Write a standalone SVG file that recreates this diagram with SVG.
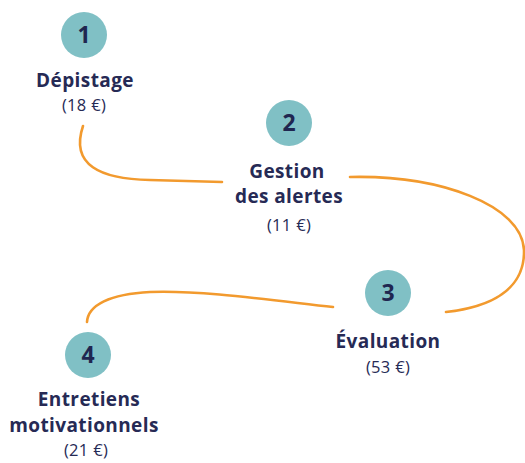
<svg xmlns="http://www.w3.org/2000/svg" width="525" height="463" viewBox="0 0 525 463">
  <style>
    .step circle { fill: #80c0c5; }
    .num { font-family: "Open Sans", "Noto Sans", sans-serif; font-weight: 700; font-size: 23px; fill: #1f2650; text-anchor: middle; }
    .title { font-family: "Open Sans", "Noto Sans", sans-serif; font-weight: 700; font-size: 19px; letter-spacing: 0.4px; fill: #262a55; text-anchor: middle; }
    .price { font-family: "Open Sans", "Noto Sans", sans-serif; font-weight: 500; font-size: 16.5px; letter-spacing: 0.3px; fill: #262a55; text-anchor: middle; }
    .link { fill: none; stroke: #f29a2e; stroke-width: 2.6; stroke-linecap: round; }
  </style>
  <rect width="525" height="463" fill="#ffffff"/>

  <!-- connectors between the steps -->
  <g id="connectors">
    <path class="link" d="M83,126 C70,165 100,179 150,180 L222,182"/>
    <path class="link" d="M350,177 C440,175 522,205 524,250 C525,290 490,307 446,312"/>
    <path class="link" d="M333,307 C270,300 200,290 150,292 C110,294 88,305 87,322"/>
  </g>

  <g id="step1" class="step">
    <circle cx="84" cy="35" r="23"/>
    <text class="num" x="84" y="43">1</text>
    <text class="title" x="85" y="87">Dépistage</text>
    <text class="price" x="84" y="111">(18 €)</text>
  </g>

  <g id="step2" class="step">
    <circle cx="289" cy="123" r="23"/>
    <text class="num" x="289" y="131">2</text>
    <text class="title" x="287" y="178">Gestion</text>
    <text class="title" x="289" y="203">des alertes</text>
    <text class="price" x="289" y="231">(11 €)</text>
  </g>

  <g id="step3" class="step">
    <circle cx="388" cy="293" r="23"/>
    <text class="num" x="388" y="301">3</text>
    <text class="title" x="388" y="348">Évaluation</text>
    <text class="price" x="388" y="373">(53 €)</text>
  </g>

  <g id="step4" class="step">
    <circle cx="88" cy="355" r="23"/>
    <text class="num" x="88" y="363">4</text>
    <text class="title" x="89" y="406">Entretiens</text>
    <text class="title" x="84" y="432">motivationnels</text>
    <text class="price" x="86" y="456">(21 €)</text>
  </g>
</svg>
